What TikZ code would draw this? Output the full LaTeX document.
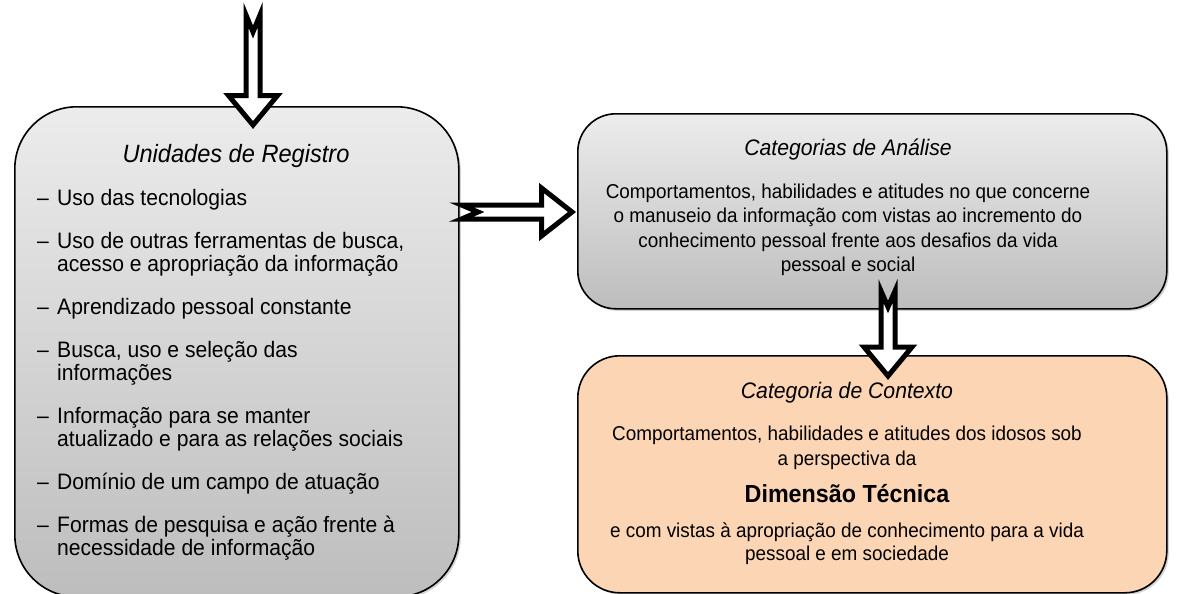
\documentclass[tikz,border=0pt]{standalone}
\usepackage{fontspec}
\setmainfont{Liberation Sans}
\usetikzlibrary{shadows}
\begin{document}
\begin{tikzpicture}[x=1pt,y=1pt,
  graybox/.style={rectangle, draw=black, line width=1.6pt, anchor=north west, top color=grayTop, bottom color=grayBot,
     drop shadow={shadow xshift=2pt, shadow yshift=-2pt, opacity=0.35}},
  orangebox/.style={rectangle, draw=black, line width=1.6pt, anchor=north west, fill=orangeFill,
     drop shadow={shadow xshift=2pt, shadow yshift=-2pt, opacity=0.35}},
  blockarrow/.style={draw=black, fill=white, line width=5pt, line join=miter, miter limit=10},
  txt/.style={inner sep=0pt, yscale=1.06, transform shape, text=black},
  ttlL/.style={txt, anchor=base, font=\fontsize{23.6}{28}\selectfont\itshape},
  ttlR/.style={txt, anchor=base, font=\fontsize{21.2}{25}\selectfont\itshape},
  itemL/.style={txt, anchor=base west, font=\fontsize{21.1}{25}\selectfont},
  bodyR/.style={txt, anchor=base, font=\fontsize{18.9}{22}\selectfont},
  boldR/.style={txt, anchor=base, font=\fontsize{23.3}{27}\selectfont\bfseries},
]
\definecolor{grayTop}{HTML}{ECECEC}
\definecolor{grayBot}{HTML}{BDBDBD}
\definecolor{orangeFill}{HTML}{FCD5B5}
\useasboundingbox (0,0) rectangle (1178,-594);
\clip (0,0) rectangle (1178,-594);

% boxes
\node[graybox, rounded corners=62pt, minimum width=444pt, minimum height=490pt] (units) at (14,-106) {};
\node[graybox, rounded corners=38pt, minimum width=589pt, minimum height=195pt] (analise) at (577,-113) {};
\node[orangebox, rounded corners=42pt, minimum width=589pt, minimum height=237pt] (contexto) at (577,-355) {};

% left box text
\node[ttlL] (ut) at (236,-162.7) {Unidades de Registro};
\node[itemL] (u1) at (37,-205) {\makebox[20pt][l]{–}Uso das tecnologias};
\node[itemL] (u2) at (37,-248) {\makebox[20pt][l]{–}Uso de outras ferramentas de busca,};
\node[itemL] (u2b) at (57,-271) {acesso e apropriação da informação};
\node[itemL] (u3) at (37,-314) {\makebox[20pt][l]{–}Aprendizado pessoal constante};
\node[itemL] (u4) at (37,-357) {\makebox[20pt][l]{–}Busca, uso e seleção das};
\node[itemL] (u4b) at (57,-380) {informações};
\node[itemL] (u5) at (37,-423) {\makebox[20pt][l]{–}Informação para se manter};
\node[itemL] (u5b) at (57,-446) {atualizado e para as relações sociais};
\node[itemL] (u6) at (37,-489) {\makebox[20pt][l]{–}Domínio de um campo de atuação};
\node[itemL] (u7) at (37,-532) {\makebox[20pt][l]{–}Formas de pesquisa e ação frente à};
\node[itemL] (u7b) at (57,-555) {necessidade de informação};

% right top box text
\node[ttlR] (at) at (848,-155) {Categorias de Análise};
\node[bodyR] (a1) at (848,-198) {Comportamentos, habilidades e atitudes no que concerne};
\node[bodyR] (a2) at (848,-222.5) {o manuseio da informação com vistas ao incremento do};
\node[bodyR] (a3) at (848,-247) {conhecimento pessoal frente aos desafios da vida};
\node[bodyR] (a4) at (848,-271.5) {pessoal e social};

% orange box text
\node[ttlR] (ct) at (847,-398) {Categoria de Contexto};
\node[bodyR] (c1) at (847,-440) {Comportamentos, habilidades e atitudes dos idosos sob};
\node[bodyR] (c2) at (847,-465) {a perspectiva da};
\node[boldR] (c3) at (847,-502) {Dimensão Técnica};
\node[bodyR] (c4) at (847,-537) {e com vistas à apropriação de conhecimento para a vida};
\node[bodyR] (c5) at (847,-560) {pessoal e em sociedade};

% block arrows
\draw[blockarrow] (246,-15) -- (253,-32) -- (260,-15) -- (260,-95.5) -- (277.5,-95.5)
   -- (253,-125) -- (228.5,-95.5) -- (246,-95.5) -- cycle;
\draw[blockarrow] (461.5,-205) -- (541.5,-205) -- (541.5,-188) -- (572,-212) -- (541.5,-236)
   -- (541.5,-219) -- (461.5,-219) -- (478,-212) -- cycle;
\draw[blockarrow] (881,-291) -- (888,-307) -- (895,-291) -- (895,-347) -- (912,-347)
   -- (888,-376) -- (864,-347) -- (881,-347) -- cycle;
\end{tikzpicture}
\end{document}
